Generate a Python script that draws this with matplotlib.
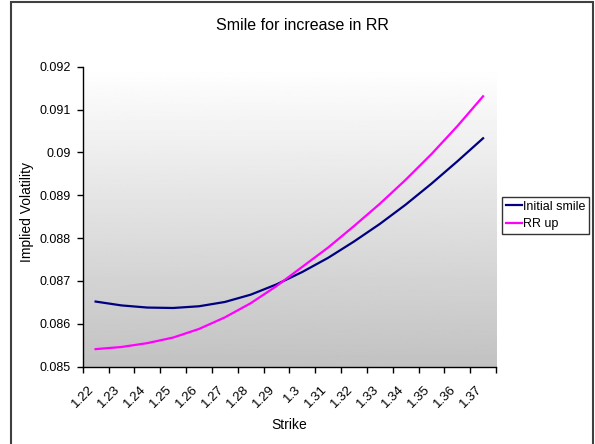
import numpy as np
import matplotlib
matplotlib.use("Agg")
import matplotlib.pyplot as plt
from matplotlib.patches import Rectangle
from matplotlib.transforms import ScaledTranslation

plt.rcParams['font.family'] = ['Liberation Sans', 'DejaVu Sans']

# Strike grid and implied volatility smiles
strikes = ['1.22', '1.23', '1.24', '1.25', '1.26', '1.27', '1.28', '1.29',
           '1.3', '1.31', '1.32', '1.33', '1.34', '1.35', '1.36', '1.37']
initial_smile = [0.08652, 0.08643, 0.08638, 0.08637, 0.08641, 0.08651, 0.08668, 0.08692,
                 0.08721, 0.08754, 0.08792, 0.08833, 0.08878, 0.08927, 0.08979, 0.09033]
rr_up = [0.08541, 0.08546, 0.08555, 0.08568, 0.08588, 0.08615, 0.08648, 0.08688,
         0.08733, 0.08778, 0.08828, 0.08880, 0.08936, 0.08996, 0.09061, 0.09131]
y_ticks = [0.085, 0.086, 0.087, 0.088, 0.089, 0.090, 0.091, 0.092]

W, H = 595, 444
fig = plt.figure(figsize=(W / 100, H / 100), dpi=100)
fig.patch.set_facecolor('white')

left, right, top, bottom = 82.7, 496, 66.7, 366.7
ax = fig.add_axes([left / W, 1 - bottom / H, (right - left) / W, (bottom - top) / H])

x = np.arange(len(strikes))
ymin, ymax = y_ticks[0], y_ticks[-1]

# grey gradient plot area
grad = np.linspace(1.0, 0.76, 256)[:, None]
ax.imshow(grad, extent=[-0.5, len(strikes) - 0.5, ymin, ymax], aspect='auto',
          cmap='gray', vmin=0, vmax=1, origin='upper', zorder=0)

l1, = ax.plot(x, initial_smile, color='#000080', lw=1.6, label='Initial smile', zorder=3)
l2, = ax.plot(x, rr_up, color='#FF00FF', lw=1.6, label='RR up', zorder=3)

ax.set_xlim(-0.5, len(strikes) - 0.5)
ax.set_ylim(ymin, ymax)

for s in ['top', 'right']:
    ax.spines[s].set_visible(False)
for s in ['left', 'bottom']:
    ax.spines[s].set_color('black')
    ax.spines[s].set_linewidth(1.0)

ax.set_yticks(y_ticks)
ax.set_yticklabels([f"{v:g}" for v in y_ticks], fontsize=9)
ax.tick_params(axis='y', direction='out', length=4, width=1, pad=4.5)

ax.set_xticks(x)
ax.set_xticklabels(strikes, fontsize=9.5, rotation=45, ha='right', va='center',
                   rotation_mode='anchor')
ax.tick_params(axis='x', which='major', length=0, pad=15)
ax.set_xticks(np.arange(-0.5, len(strikes)), minor=True)
ax.tick_params(axis='x', which='minor', direction='out', length=4, width=1)
shift = ScaledTranslation(-3 / 100, 0, fig.dpi_scale_trans)
for lbl in ax.get_xticklabels():
    lbl.set_transform(lbl.get_transform() + shift)

fig.text(302 / W, 1 - 25 / H, 'Smile for increase in RR', ha='center', va='center',
         fontsize=11.5)
fig.text(289 / W, 1 - 425 / H, 'Strike', ha='center', va='center', fontsize=10)
fig.text(27 / W, 1 - 212 / H, 'Implied Volatility', ha='center', va='center',
         rotation=90, fontsize=10)

leg = fig.legend(handles=[l1, l2], loc='upper left',
                 bbox_to_anchor=(502 / W, 1 - 197 / H), fontsize=9,
                 frameon=True, fancybox=False, borderpad=0.3, handlelength=1.3,
                 handletextpad=0.1, labelspacing=0.45, borderaxespad=0)
leg.get_frame().set_edgecolor('black')
leg.get_frame().set_linewidth(1.0)

# outer chart border
fig.add_artist(Rectangle((11 / W, -0.05), (593 - 11) / W, 1 - 2 / H + 0.05,
                         transform=fig.transFigure, fill=False,
                         ec='#404040', lw=1.5))

fig.savefig('out.png', dpi=100)
